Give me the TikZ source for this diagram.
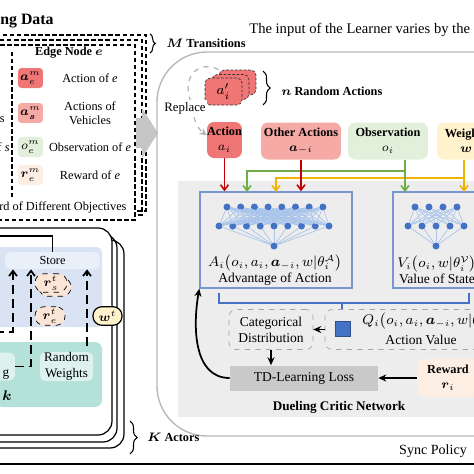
\documentclass[tikz,border=0pt]{standalone}
\usepackage{amsmath}
\usepackage{amssymb}
\usepackage{fontspec}
\setmainfont{Liberation Serif}
\usetikzlibrary{arrows.meta,decorations.pathreplacing}
\definecolor{actred}{RGB}{240,117,117}
\definecolor{othred}{RGB}{245,170,165}
\definecolor{obsgreen}{RGB}{226,239,218}
\definecolor{wgtyellow}{RGB}{255,242,204}
\definecolor{rewpeach}{RGB}{253,238,227}
\definecolor{panelgray}{RGB}{237,237,237}
\definecolor{tdgray}{RGB}{201,201,201}
\definecolor{nnblue}{RGB}{68,114,196}
\definecolor{nnline}{RGB}{169,196,235}
\definecolor{boxblue}{RGB}{120,150,210}
\definecolor{arrred}{RGB}{192,0,0}
\definecolor{arrgreen}{RGB}{112,173,71}
\definecolor{arryellow}{RGB}{240,180,0}
\definecolor{storeblue}{RGB}{218,227,243}
\definecolor{storebar}{RGB}{234,240,250}
\definecolor{actteal}{RGB}{180,226,216}
\definecolor{rwteal}{RGB}{221,242,238}
\definecolor{rpeach}{RGB}{251,229,214}

\begin{document}
\begin{tikzpicture}[x=0.02cm,y=-0.02cm,
  txt/.style={font=\fontsize{7}{8.2}\selectfont,align=center,inner sep=0pt},
  ntxt/.style={font=\fontsize{7.7}{9.2}\selectfont,align=center,inner sep=0pt},
  legbox/.style={rounded corners=2pt,minimum width=0.5cm,minimum height=0.4cm,inner sep=0pt,font=\fontsize{7.5}{8}\selectfont},
  inbox/.style={rounded corners=4pt,minimum height=0.74cm,inner sep=0pt,align=center,font=\fontsize{7}{8.6}\selectfont},
  nn/.style={circle,fill=nnblue,inner sep=0pt,minimum size=0.14cm},
  nnl/.style={draw=nnline,line width=0.4pt},
  netbox/.style={draw=boxblue,line width=0.8pt,minimum height=1.92cm},
  dbox/.style={draw=gray!70,dashed,rounded corners=4pt,minimum height=0.8cm},
  colarr/.style={line width=0.9pt,-{Straight Barb[length=3pt,width=4.5pt]}},
  blkarr/.style={line width=1pt,-{Stealth[length=4.5pt,width=4pt]}},
  dasharr/.style={line width=1pt,dash pattern=on 5pt off 3pt,-{Straight Barb[length=3pt,width=4.5pt]}},
  pill/.style={rounded corners=5pt,minimum height=0.37cm,inner sep=0pt,font=\fontsize{7.5}{8}\selectfont},
  actor/.style={draw,line width=0.7pt,rounded corners=0.28cm},
  mbox/.style={draw,line width=0.7pt,dash pattern=on 2.5pt off 1.5pt}]
\useasboundingbox (0,0) rectangle (474,474) ;
\clip (0,0) rectangle (474,474) ;

\node[font=\fontsize{9}{10}\selectfont\bfseries,anchor=west,inner sep=0pt] (tdata) at (0,21) {ng Data} ;
\draw[mbox] (-10,35) rectangle (146,211) ;
\draw[mbox] (-10,40) rectangle (142,215) ;
\draw[mbox,fill=white] (-10,45) rectangle (135,220) ;
\draw[dash pattern=on 2.5pt off 1.5pt,line width=0.7pt] (12,52) -- (12,197) ;
\node[txt,font=\fontsize{7}{8}\selectfont\bfseries] (edge) at (69,53) {Edge Node $\boldsymbol{e}$} ;
\node[legbox,fill=actred] (lae) at (30.5,78) {$\boldsymbol{a}_{e}^{m}$} ;
\node[legbox,fill=othred] (las) at (30.5,113) {$\boldsymbol{a}_{\boldsymbol{s}}^{m}$} ;
\node[legbox,fill=obsgreen] (loe) at (30.5,147) {$o_{e}^{m}$} ;
\node[legbox,fill=rewpeach] (lre) at (30.5,175) {$\boldsymbol{r}_{e}^{m}$} ;
\node[txt] (tae) at (90,78) {Action of \textit{e}} ;
\node[txt] (tas) at (90,113) {Actions of\\Vehicles} ;
\node[txt] (toe) at (90,147) {Observation of \textit{e}} ;
\node[txt] (tre) at (90,175) {Reward of \textit{e}} ;
\node[txt,anchor=west] (tobj) at (-1,207) {rd of Different Objectives} ;
\node[txt,anchor=east] (ts1) at (5,120) {s} ;
\node[txt,anchor=east] (ts2) at (10,147) {f \textit{s}} ;
\draw[decorate,decoration={brace,amplitude=3pt},line width=0.6pt] (150,34) -- (150,53) ;
\node[txt,anchor=west,font=\fontsize{7}{8}\selectfont\bfseries] (mtr) at (166,43) {$\boldsymbol{M}$ Transitions} ;

\fill[gray!45] (136,118) -- (142,118) -- (142,108) -- (158,133) -- (142,158) -- (142,148) -- (136,148) -- cycle ;

\draw[gray!55,line width=0.8pt,rounded corners=1cm] (157,52) rectangle (540,436) ;
\node[anchor=west,inner sep=0pt,font=\fontsize{8.3}{9}\selectfont] (ttl) at (249,30) {The input of the Learner varies by the} ;

\node[rounded corners=3pt,draw=black!80,dash pattern=on 1.5pt off 1pt,fill=actred,minimum width=0.74cm,minimum height=0.5cm] (rnd3) at (237.5,82.5) {} ;
\node[rounded corners=3pt,draw=black!80,dash pattern=on 1.5pt off 1pt,fill=actred,minimum width=0.74cm,minimum height=0.5cm] (rnd2) at (230.5,87) {} ;
\node[rounded corners=3pt,draw=black!80,dash pattern=on 1.5pt off 1pt,fill=actred,minimum width=0.74cm,minimum height=0.5cm,font=\fontsize{8}{9}\selectfont] (rnd1) at (223.5,91.5) {$a_i'$} ;
\draw[decorate,decoration={brace,amplitude=4pt},line width=0.6pt] (263,71) -- (263,105) ;
\node[txt,anchor=west,font=\fontsize{7}{8}\selectfont\bfseries] (nra) at (281,91) {$\boldsymbol{n}$ Random Actions} ;

\node[inbox,fill=actred,minimum width=0.7cm,minimum height=0.72cm] (act) at (224.5,140) {\textbf{Action}\\$a_i$} ;
\node[inbox,fill=othred,minimum width=1.6cm] (oth) at (301,141) {\textbf{Other Actions}\\$\boldsymbol{a}_{-i}$} ;
\node[inbox,fill=obsgreen,minimum width=1.6cm] (obs) at (388,141) {\textbf{Observation}\\$o_i$} ;
\node[inbox,fill=wgtyellow,minimum width=1.16cm] (wgt) at (466,141) {\textbf{Weights}\\$\boldsymbol{w}$} ;
\draw[gray!60,dashed,line width=0.7pt,-{Stealth[length=4pt,width=4pt]}] (rnd3.north west) .. controls (200,60) and (184,75) .. (189,95) .. controls (193,112) and (194,126) .. (act.165) ;
\node[txt,fill=white,inner sep=1pt,font=\fontsize{7.3}{8}\selectfont] (rep) at (185,108) {Replace} ;

\fill[panelgray] (178,181) rectangle (490,417) ;
\node[txt,font=\fontsize{7.5}{8}\selectfont\bfseries] (dcn) at (339,407) {Dueling Critic Network} ;

\node[netbox,minimum width=3.04cm] (adv) at (276,240) {} ;
\node[netbox,minimum width=1.78cm] (val) at (437.5,240) {} ;
\foreach \i in {0,...,7} \node[nn] (at\i) at (227+\i*13.7,207) {} ;
\foreach \j in {0,...,8} \node[nn] (ab\j) at (219+\j*13.75,226) {} ;
\node[nn] (ao) at (274,246) {} ;
\foreach \i in {0,...,7} \foreach \j in {0,...,8} \draw[nnl] (at\i) -- (ab\j) ;
\foreach \j in {0,...,8} \draw[nnl] (ab\j) -- (ao) ;
\foreach \i in {0,...,3} \node[nn] (vt\i) at (415+\i*14,207) {} ;
\foreach \j in {0,...,4} \node[nn] (vb\j) at (408+\j*14,226) {} ;
\node[nn] (vo) at (436,246) {} ;
\foreach \i in {0,...,3} \foreach \j in {0,...,4} \draw[nnl] (vt\i) -- (vb\j) ;
\foreach \j in {0,...,4} \draw[nnl] (vb\j) -- (vo) ;
\node[ntxt] (advt) at (275,270) {$A_i\big(o_i, a_i, \boldsymbol{a}_{-i}, w|\theta_i^{\mathcal{A}}\big)$\\Advantage of Action} ;
\node[ntxt] (valt) at (437,270) {$V_i\big(o_i, w|\theta_i^{\mathcal{V}}\big)$\\Value of State} ;

\coordinate (yh) at (464,178) ;
\coordinate (yv) at (464,192) ;
\coordinate (ya) at (276,192) ;
\coordinate (gh) at (405,171) ;
\coordinate (gv) at (405,192) ;
\coordinate (ga) at (247,192) ;
\draw[colarr,draw=arryellow] (yv |- wgt.south) -- (yv) ;
\draw[colarr,draw=arryellow] (yh) -| (ya) ;
\draw[colarr,draw=arrgreen] (gv |- obs.south) -- (gv) ;
\draw[colarr,draw=arrgreen] (gh) -| (ga) ;
\draw[colarr,draw=arrred] (act.south) -- (act.south |- adv.north) ;
\draw[colarr,draw=arrred] (oth.south) -- (oth.south |- adv.north) ;

\draw[draw=nnblue,line width=1pt] (219,293) -- (219,303) -- (469,303) -- (469,293) ;
\draw[draw=nnblue,line width=1pt] (342,303) -- (342,310) ;

\node[dbox,minimum width=1.68cm,ntxt] (cat) at (271,329.5) {Categorical\\Distribution} ;
\node[dbox,minimum width=3.88cm] (qv) at (422,329.5) {} ;
\node[fill=nnblue,draw=nnblue!70!black,minimum size=0.3cm,inner sep=0pt] (qsq) at (342.5,329) {} ;
\node[ntxt,anchor=west] (qf) at (362,321) {$Q_i\big(o_i, a_i, \boldsymbol{a}_{-i}, w|\theta_i^{\mathcal{A}}, \theta_i^{\mathcal{V}}\big)$} ;
\node[ntxt] (qt) at (421,340) {Action Value} ;
\draw[blkarr] (qv.west) -- (cat.east) ;

\node[fill=tdgray,minimum width=2.96cm,minimum height=0.5cm,ntxt] (td) at (304,378) {TD-Learning Loss} ;
\node[inbox,fill=rewpeach,minimum width=1.24cm,minimum height=0.76cm] (rew) at (448,378) {\textbf{Reward}\\$\boldsymbol{r}_i$} ;
\draw[blkarr] (cat.south) -- (cat.south |- td.north) ;
\draw[blkarr] (rew.west) -- (td.east) ;
\draw[blkarr] (td.west) to[out=180,in=-100] (adv.south west) ;

\draw[actor] (-20,240) rectangle (124,448) ;
\draw[actor] (-20,234) rectangle (117,442) ;
\draw[actor,fill=white] (-20,228) rectangle (112,435) ;
\fill[storeblue,rounded corners=3pt] (-5,247) rectangle (102,327) ;
\node[fill=storebar,rounded corners=3pt,minimum width=1.9cm,minimum height=0.34cm,txt] (store) at (52.5,260.5) {Store} ;
\coordinate (buf) at (-5,236) ;
\draw[line width=0.8pt] (store.north) |- (buf) ;
\node[pill,draw,dashed,fill=rpeach,minimum width=0.64cm] (rs2) at (55,287) {} ;
\node[pill,draw,dashed,fill=rpeach,minimum width=0.64cm] (rs) at (51,283) {$\boldsymbol{r}_s^t$} ;
\node[pill,draw,dashed,fill=rpeach,minimum width=0.6cm] (re) at (50,316) {$\boldsymbol{r}_e^t$} ;
\node[pill,draw,line width=0.7pt,fill=wgtyellow,minimum width=0.58cm] (wt) at (107.5,316) {$\boldsymbol{w}^t$} ;
\fill[actteal,rounded corners=4pt] (-5,342) rectangle (102,407) ;
\node[fill=rwteal,rounded corners=3pt,minimum width=1.06cm,minimum height=0.58cm,txt,font=\fontsize{7.5}{9}\selectfont] (rw) at (66.5,366.5) {Random\\Weights} ;
\node[fill=rwteal,rounded corners=3pt,minimum width=1.08cm,minimum height=0.56cm] (samp) at (-12,366.5) {} ;
\node[txt,font=\fontsize{7.5}{9}\selectfont] (tg) at (6,375) {g} ;
\node[txt,font=\fontsize{8}{9}\selectfont] (tk) at (7,396) {$\boldsymbol{k}$} ;
\coordinate (d1) at (-5,332) ;
\coordinate (wv) at (87,346) ;
\draw[dasharr] (d1) -| (store.south -| 13,0) ;
\draw[dasharr] (samp.east) -| (store.south -| 31,0) ;
\draw[dasharr] (wv) -- (wv |- store.south) ;
\draw[decorate,decoration={brace,amplitude=4pt},line width=0.6pt] (130,421) -- (130,454) ;
\node[txt,anchor=west,font=\fontsize{7}{8}\selectfont\bfseries] (kac) at (147,437) {$\boldsymbol{K}$ Actors} ;

\coordinate (sl) at (-5,464) ;
\coordinate (sr) at (480,464) ;
\draw[line width=1.1pt] (sl) -- (sr) ;
\node[txt,font=\fontsize{8}{9}\selectfont] (sync) at (433,451) {Sync Policy} ;
\end{tikzpicture}
\end{document}
